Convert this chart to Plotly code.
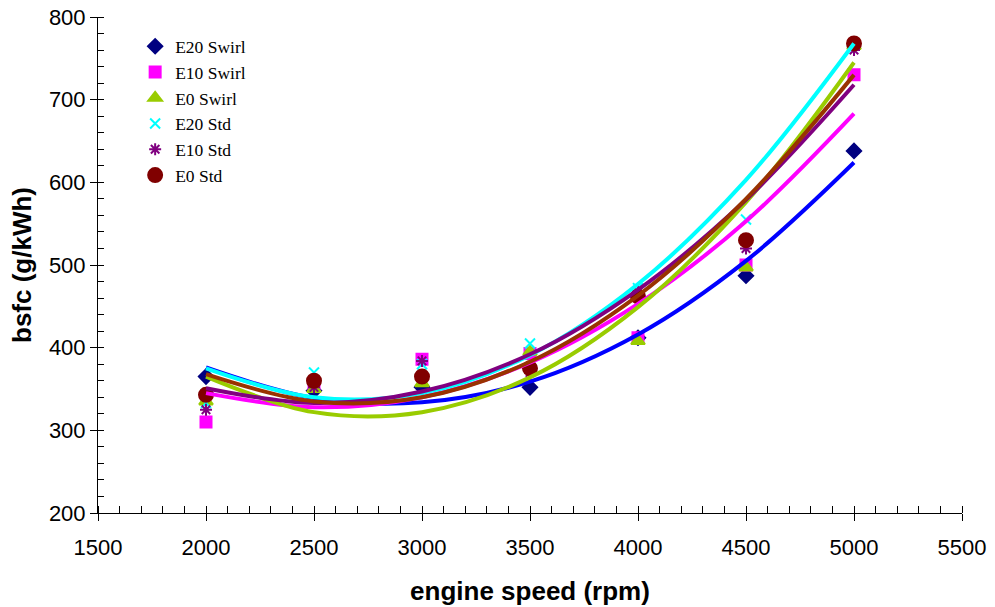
import plotly.graph_objects as go

speed = [2000, 2500, 3000, 3500, 4000, 4500, 5000]

# measured points
e20_swirl = [365, 348, 352, 352, 412, 487, 638]
e10_swirl = [310, 355, 386, 393, 412, 500, 730]
e0_swirl = [335, 350, 357, 395, 408, 497, 765]
e20_std = [333, 370, 380, 405, 472, 555, 768]
e10_std = [325, 352, 384, 370, 468, 520, 760]
e0_std = [343, 360, 365, 375, 462, 530, 768]

# trendline values at each speed
trend_e20_swirl = [376, 339, 334, 359, 416, 505, 624]
trend_e10_swirl = [345, 328, 340, 382, 453, 553, 683]
trend_e0_swirl = [365, 322, 322, 364, 449, 576, 745]
trend_e20_std = [375, 340, 345, 391, 477, 603, 768]
trend_e10_std = [351, 333, 347, 392, 470, 579, 718]
trend_e0_std = [368, 335, 340, 383, 463, 580, 730]

series = [
    ("E20 Swirl", e20_swirl, trend_e20_swirl, "#000080", "#0000FF", "diamond", 11),
    ("E10 Swirl", e10_swirl, trend_e10_swirl, "#FF00FF", "#FF00FF", "square", 11),
    ("E0 Swirl", e0_swirl, trend_e0_swirl, "#99CC00", "#99CC00", "triangle-up", 12),
    ("E20 Std", e20_std, trend_e20_std, "#00FFFF", "#00FFFF", "x-thin-open", 10),
    ("E10 Std", e10_std, trend_e10_std, "#800080", "#800080", "asterisk-open", 10),
    ("E0 Std", e0_std, trend_e0_std, "#800000", "#993300", "circle", 14),
]

fig = go.Figure()
for name, vals, trend, mcol, lcol, sym, sz in series:
    fig.add_trace(go.Scatter(
        x=speed, y=vals, mode="markers", name=name,
        marker=dict(symbol=sym, size=sz, color=mcol,
                    line=dict(color=mcol, width=2))))

for name, vals, trend, mcol, lcol, sym, sz in series:
    fig.add_trace(go.Scatter(
        x=speed, y=trend, mode="lines", showlegend=False,
        hoverinfo="skip",
        line=dict(color=lcol, width=4, shape="spline", smoothing=1.0)))

tick_font = dict(family="Liberation Sans, Arial, sans-serif", size=22, color="black")
title_font = dict(family="Liberation Sans, Arial, sans-serif", size=26, color="black")
fig.update_layout(
    width=995, height=607,
    margin=dict(l=98, r=33, t=17, b=94),
    paper_bgcolor="white", plot_bgcolor="white",
    showlegend=True,
    legend=dict(x=0.043, y=0.977, xanchor="left", yanchor="top",
                font=dict(family="Liberation Serif, Times New Roman, serif", size=17.5, color="black"),
                bgcolor="rgba(0,0,0,0)", itemwidth=30, tracegroupgap=0),
    xaxis=dict(
        range=[1500, 5500], dtick=500, tick0=1500, automargin=False,
        showgrid=False, zeroline=False,
        showline=True, linecolor="black", linewidth=1,
        ticks="outside", ticklen=7, tickcolor="black",
        ticklabelstandoff=8, ticklabeloverflow="allow",
        minor=dict(dtick=100, ticks="inside", ticklen=7, tickcolor="black"),
        tickfont=tick_font,
        title=dict(text="<b>engine speed (rpm)</b>", font=title_font, standoff=22),
    ),
    xaxis2=dict(
        range=[1500, 5500], dtick=500, tick0=1500, overlaying="x", automargin=False,
        showgrid=False, zeroline=False, showline=False, showticklabels=False,
        ticks="inside", ticklen=7, tickcolor="black", side="bottom",
        anchor="y",
    ),
    yaxis=dict(
        range=[200, 800], dtick=100, automargin=False,
        showgrid=False, zeroline=False,
        showline=True, linecolor="black", linewidth=1,
        ticks="outside", ticklen=7, tickcolor="black",
        ticklabeloverflow="allow",
        minor=dict(dtick=20, ticks="inside", ticklen=6, tickcolor="black"),
        tickfont=tick_font,
        title=dict(text="<b>bsfc (g/kWh)</b>", font=title_font, standoff=9),
    ),
)

fig.write_html("out.html", config={"displayModeBar": False},
               post_script="document.body.style.margin='0';")
